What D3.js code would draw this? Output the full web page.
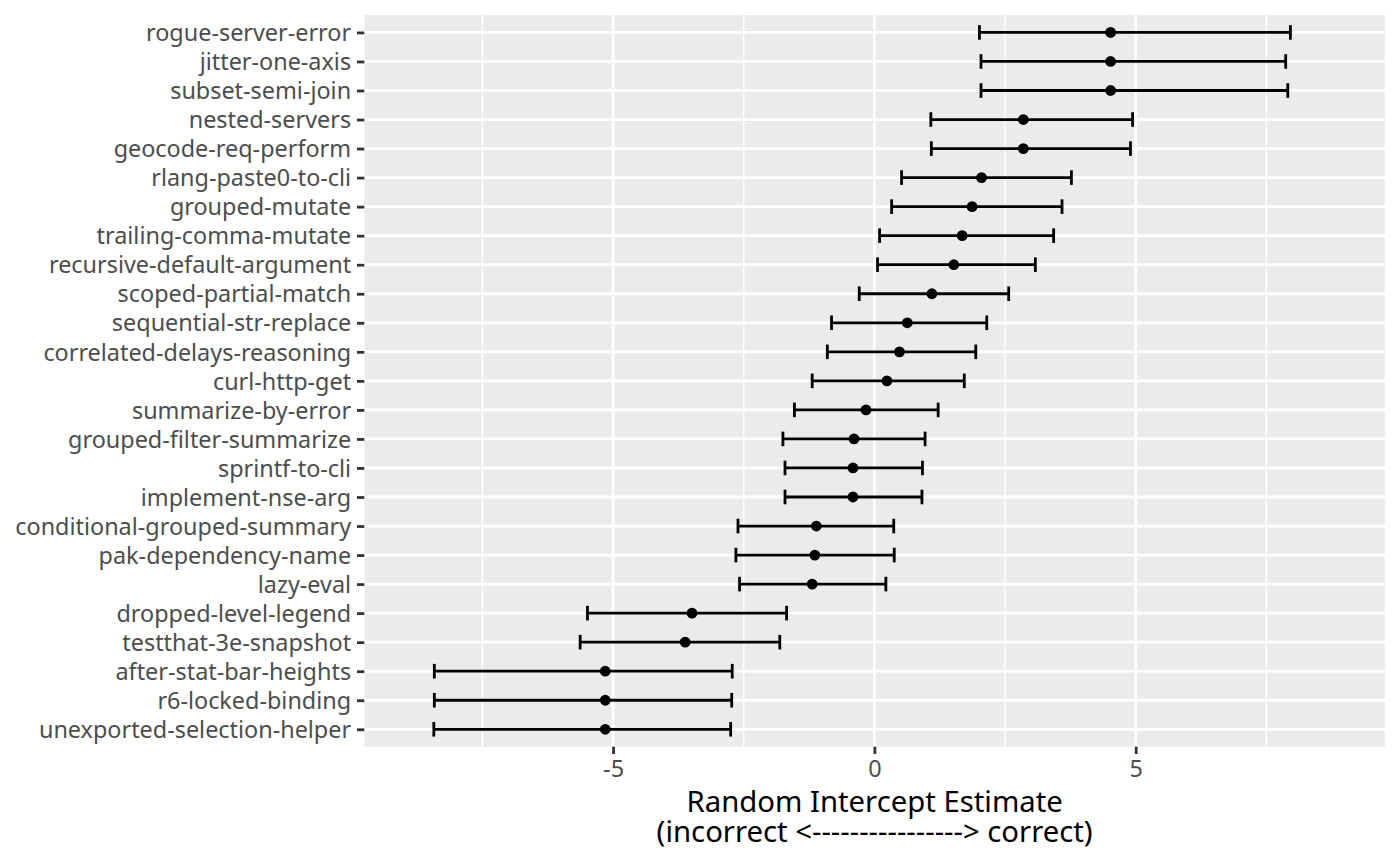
<!DOCTYPE html>
<html>
<head>
<meta charset="utf-8">
<script src="https://cdn.jsdelivr.net/npm/d3@7"></script>
<style>
  body { margin: 0; background: #fff; }
  svg text { font-family: "Noto Sans", "Open Sans", sans-serif; }
</style>
</head>
<body>
<svg id="chart" width="1400" height="865"></svg>
<script>
// Tasks, top to bottom
const tasks = [
  "rogue-server-error", "jitter-one-axis", "subset-semi-join", "nested-servers",
  "geocode-req-perform", "rlang-paste0-to-cli", "grouped-mutate", "trailing-comma-mutate",
  "recursive-default-argument", "scoped-partial-match", "sequential-str-replace",
  "correlated-delays-reasoning", "curl-http-get", "summarize-by-error",
  "grouped-filter-summarize", "sprintf-to-cli", "implement-nse-arg",
  "conditional-grouped-summary", "pak-dependency-name", "lazy-eval",
  "dropped-level-legend", "testthat-3e-snapshot", "after-stat-bar-heights",
  "r6-locked-binding", "unexported-selection-helper"
];
const estimate = [4.52, 4.52, 4.52, 2.85, 2.85, 2.05, 1.87, 1.68, 1.52, 1.10, 0.63, 0.48, 0.24,
  -0.16, -0.39, -0.41, -0.41, -1.11, -1.14, -1.19, -3.49, -3.62, -5.15, -5.15, -5.15];
const lower = [2.01, 2.04, 2.04, 1.08, 1.09, 0.52, 0.33, 0.10, 0.06, -0.29, -0.82, -0.90, -1.19,
  -1.53, -1.75, -1.71, -1.71, -2.61, -2.65, -2.58, -5.49, -5.63, -8.42, -8.42, -8.43];
const upper = [7.96, 7.87, 7.91, 4.94, 4.90, 3.77, 3.59, 3.43, 3.08, 2.57, 2.15, 1.94, 1.72,
  1.22, 0.97, 0.92, 0.91, 0.37, 0.38, 0.22, -1.68, -1.81, -2.72, -2.73, -2.75];
const xTicks = [-5, 0, 5];
const xMinor = [-7.5, -2.5, 2.5, 7.5];

const data = tasks.map((t, i) => ({ task: t, est: estimate[i], lo: lower[i], hi: upper[i] }));

const svg = d3.select("#chart");
const margin = { left: 364.3, right: 15, top: 15, bottom: 118.3 };
const W = 1400, H = 865;
const pw = W - margin.left - margin.right;
const ph = H - margin.top - margin.bottom;

const g = svg.append("g").attr("transform", `translate(${margin.left},${margin.top})`);

const x = d3.scaleLinear().domain([-9.76, 9.77]).range([0, pw]);
const y = d3.scalePoint().domain(tasks).range([0, ph]).padding(0.6);

const lwMajor = 2.8, lwMinor = 1.4;

// panel
g.append("rect").attr("width", pw).attr("height", ph).attr("fill", "#EBEBEB");

// minor grid
g.selectAll("line.minor").data(xMinor).enter().append("line")
  .attr("x1", d => x(d)).attr("x2", d => x(d))
  .attr("y1", 0).attr("y2", ph)
  .attr("stroke", "#fff").attr("stroke-width", lwMinor);

// major grid
g.selectAll("line.majx").data(xTicks).enter().append("line")
  .attr("x1", d => x(d)).attr("x2", d => x(d))
  .attr("y1", 0).attr("y2", ph)
  .attr("stroke", "#fff").attr("stroke-width", lwMajor);
g.selectAll("line.majy").data(tasks).enter().append("line")
  .attr("x1", 0).attr("x2", pw)
  .attr("y1", d => y(d)).attr("y2", d => y(d))
  .attr("stroke", "#fff").attr("stroke-width", lwMajor);

// error bars
const cap = 7.3;
const eb = g.selectAll("g.eb").data(data).enter().append("g")
  .attr("stroke", "#000").attr("stroke-width", lwMajor);
eb.append("line")
  .attr("x1", d => x(d.lo)).attr("x2", d => x(d.hi))
  .attr("y1", d => y(d.task)).attr("y2", d => y(d.task));
eb.append("line")
  .attr("x1", d => x(d.lo)).attr("x2", d => x(d.lo))
  .attr("y1", d => y(d.task) - cap).attr("y2", d => y(d.task) + cap);
eb.append("line")
  .attr("x1", d => x(d.hi)).attr("x2", d => x(d.hi))
  .attr("y1", d => y(d.task) - cap).attr("y2", d => y(d.task) + cap);

// points
g.selectAll("circle").data(data).enter().append("circle")
  .attr("cx", d => x(d.est)).attr("cy", d => y(d.task))
  .attr("r", 5.4).attr("fill", "#000");

// y axis
const yAxis = g.append("g")
  .call(d3.axisLeft(y).tickSize(7.3).tickPadding(5.9));
yAxis.select(".domain").remove();
yAxis.selectAll(".tick line").attr("stroke", "#333").attr("stroke-width", lwMajor);
yAxis.selectAll(".tick text").attr("fill", "#4D4D4D").style("font-size", "23.4px")
  .attr("dy", "0.35em");

// x axis
const xAxis = g.append("g").attr("transform", `translate(0,${ph})`)
  .call(d3.axisBottom(x).tickValues(xTicks).tickSize(7.3).tickPadding(5.9)
    .tickFormat(d => d < 0 ? "-" + Math.abs(d) : d));
xAxis.select(".domain").remove();
xAxis.selectAll(".tick line").attr("stroke", "#333").attr("stroke-width", lwMajor);
xAxis.selectAll(".tick text").attr("fill", "#4D4D4D").style("font-size", "23.4px");

// x title, two lines
const titleLines = ["Random Intercept Estimate", "(incorrect <----------------> correct)"];
svg.selectAll("text.xtitle").data(titleLines).enter().append("text")
  .attr("class", "xtitle")
  .attr("x", margin.left + pw / 2)
  .attr("y", (d, i) => 812 + i * 30)
  .attr("text-anchor", "middle")
  .attr("fill", "#000")
  .style("font-size", "29.3px")
  .text(d => d);
</script>
</body>
</html>
